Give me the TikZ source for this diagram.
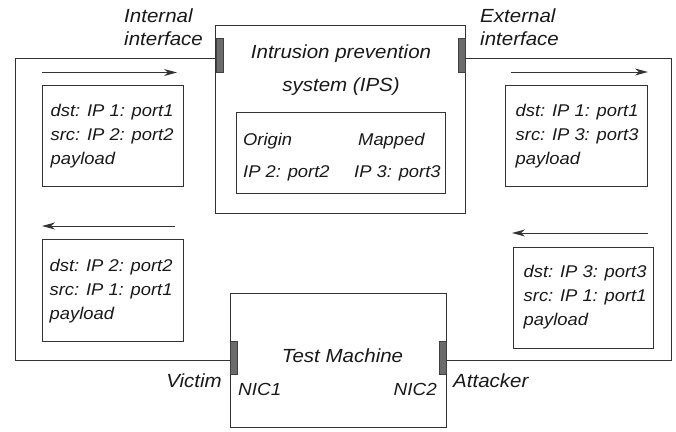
\documentclass[tikz,border=0pt]{standalone}
\usepackage{fontspec}
\setmainfont{Liberation Sans}[FakeStretch=1.08]
\usetikzlibrary{arrows.meta}

\definecolor{linecol}{gray}{0.2}
\definecolor{nubfill}{gray}{0.42}
\definecolor{nubline}{gray}{0.25}

\newcommand\lblfont{\fontsize{19}{23}\selectfont\itshape}
\newcommand\pktfont{\fontsize{17}{24}\selectfont\itshape}
\newcommand\smfont{\fontsize{17}{20}\selectfont\itshape}

\tikzset{
  box/.style={draw=linecol, line width=1pt, inner sep=0pt},
  nub/.style={draw=nubline, fill=nubfill, line width=0.6pt, inner sep=0pt,
              minimum width=7pt, minimum height=34pt},
  wire/.style={draw=linecol, line width=1pt},
  flow/.style={draw=linecol, line width=1pt,
               -{Stealth[length=13pt, width=7pt, inset=4pt]}},
  lbl/.style={font=\lblfont, inner sep=0pt, text=black!90},
  sm/.style={font=\smfont, inner sep=0pt, text=black!90},
  pkttext/.style={font=\pktfont, align=left, inner sep=0pt, anchor=north west,
                  text=black!90},
}

\begin{document}
\begin{tikzpicture}[x=1pt, y=-1pt]
\useasboundingbox (0,0) rectangle (676,431);

% Intrusion prevention system with its mapping table
\node[box, minimum width=250pt, minimum height=188pt] (ips) at (340,119) {};
\node[lbl, anchor=base] (ipst1) at (341,58) {Intrusion prevention};
\node[lbl, anchor=base] (ipst2) at (341,91) {system (IPS)};
\node[box, minimum width=209pt, minimum height=81pt] (map) at (340.5,152.5) {};
\node[sm, anchor=base west] (orig1) at (243,145) {Origin};
\node[sm, anchor=base west] (orig2) at (243,177) {IP 2: port2};
\node[sm, anchor=base west] (mapd1) at (358,145) {Mapped};
\node[sm, anchor=base west] (mapd2) at (354,177) {IP 3: port3};

% Test machine
\node[box, minimum width=216pt, minimum height=134pt] (tm) at (338,360) {};
\node[lbl, anchor=base] (tmt) at (342.5,362) {Test Machine};
\node[sm, font=\fontsize{17.5}{20}\selectfont\itshape, anchor=base west] (nic1t) at (238,395) {NIC1};
\node[sm, font=\fontsize{17.5}{20}\selectfont\itshape, anchor=base east] (nic2t) at (437,395) {NIC2};

% interfaces
\node[nub] (nint) at (219.5,55) {};
\node[nub] (next) at (461.5,55) {};
\node[nub, minimum height=33pt] (nic1) at (233.5,357.5) {};
\node[nub, minimum height=33pt] (nic2) at (442.5,357.5) {};

\node[lbl, align=left, anchor=north west] (intl) at (124,8.5) {Internal\\interface};
\node[lbl, align=left, anchor=north west] (extl) at (480,8.5) {External\\interface};
\node[lbl, anchor=base east] (victim) at (222,387) {Victim};
\node[lbl, anchor=base west] (attacker) at (453,387) {Attacker};

% cabling between the machines
\coordinate (c1) at (15,58);
\coordinate (c2) at (15,360);
\coordinate (c3) at (671,58);
\coordinate (c4) at (671,360);
\draw[wire] (nint.west |- c1) -- (c1) -- (c2) -- (nic1.west |- c2);
\draw[wire] (next.east |- c3) -- (c3) -- (c4) -- (nic2.east |- c4);

% packets
\node[box, minimum width=141pt, minimum height=101pt] (pTL) at (112.5,135.5) {};
\node[pkttext] (tTL) at ([shift={(9,19.8)}]pTL.north west)
  {dst: IP 1: port1\\src: IP 2: port2\\payload};
\node[box, minimum width=142pt, minimum height=101pt] (pTR) at (576,135.5) {};
\node[pkttext] (tTR) at ([shift={(11,19.8)}]pTR.north west)
  {dst: IP 1: port1\\src: IP 3: port3\\payload};
\node[box, minimum width=141pt, minimum height=102pt] (pBL) at (112.5,290) {};
\node[pkttext] (tBL) at ([shift={(8,20.6)}]pBL.north west)
  {dst: IP 2: port2\\src: IP 1: port1\\payload};
\node[box, minimum width=140pt, minimum height=101pt] (pBR) at (583,297.5) {};
\node[pkttext] (tBR) at ([shift={(11,18.6)}]pBR.north west)
  {dst: IP 3: port3\\src: IP 1: port1\\payload};

% direction of travel
\coordinate (aTL1) at (42,72.5);  \coordinate (aTL2) at (177,72.5);
\coordinate (aTR1) at (511,72);   \coordinate (aTR2) at (648,72);
\coordinate (aBL1) at (175,226);  \coordinate (aBL2) at (42,226);
\coordinate (aBR1) at (648,233);  \coordinate (aBR2) at (512,233);
\draw[flow] (aTL1) -- (aTL2);
\draw[flow] (aTR1) -- (aTR2);
\draw[flow] (aBL1) -- (aBL2);
\draw[flow] (aBR1) -- (aBR2);
\end{tikzpicture}
\end{document}
